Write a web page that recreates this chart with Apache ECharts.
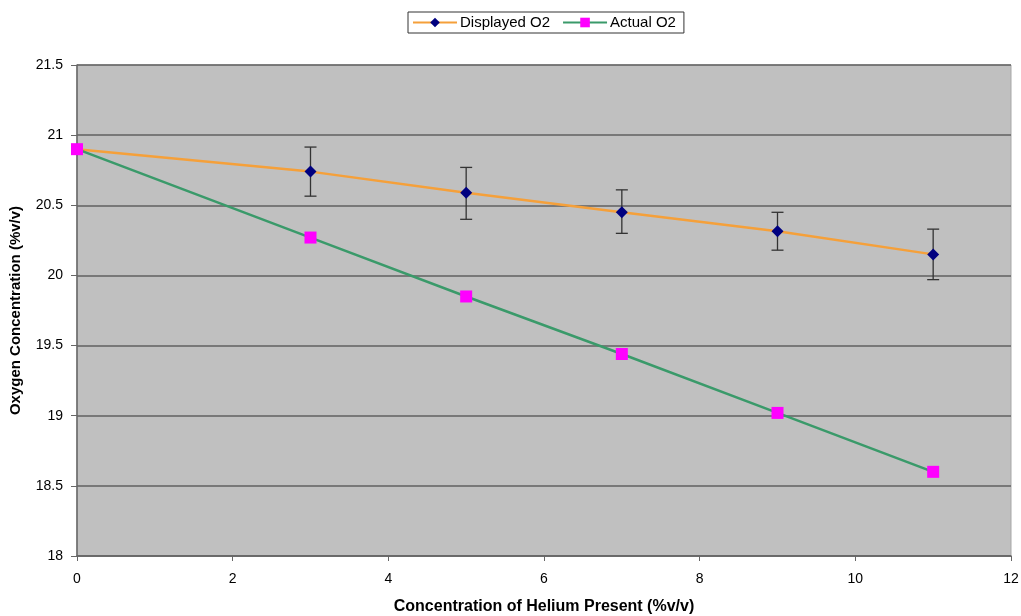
<!DOCTYPE html>
<html>
<head>
<meta charset="utf-8">
<script src="https://cdn.jsdelivr.net/npm/echarts@6/dist/echarts.min.js"></script>
<style>html,body{margin:0;padding:0;background:#fff;}#c{width:1021px;height:616px;}</style>
</head>
<body>
<div id="c"></div>
<script>
var helium = [0, 3, 5, 7, 9, 11];
var displayedO2 = [20.90, 20.74, 20.59, 20.45, 20.315, 20.15];
var displayedLow = [20.90, 20.565, 20.40, 20.30, 20.18, 19.97];
var displayedHigh = [20.90, 20.915, 20.77, 20.61, 20.45, 20.33];
var actualO2 = [20.90, 20.27, 19.85, 19.44, 19.02, 18.60];
var xTicks = [0, 2, 4, 6, 8, 10, 12];
var yTicks = [18, 18.5, 19, 19.5, 20, 20.5, 21, 21.5];

var dispData = helium.map(function (x, i) { return [x, displayedO2[i]]; });
var actData = helium.map(function (x, i) { return [x, actualO2[i]]; });
var errData = [];
helium.forEach(function (x, i) {
  if (displayedHigh[i] - displayedLow[i] > 0.01) errData.push([x, displayedLow[i], displayedHigh[i]]);
});

var chart = echarts.init(document.getElementById('c'));
chart.setOption({
  backgroundColor: '#ffffff',
  textStyle: { fontFamily: 'Liberation Sans, Arial, sans-serif' },
  animation: false,
  legend: {
    top: 12,
    left: 408,
    data: ['Displayed O2', 'Actual O2'],
    borderColor: '#333',
    borderWidth: 1,
    padding: [3, 8, 3, 4],
    itemGap: 12,
    itemWidth: 44,
    itemHeight: 12,
    textStyle: { fontSize: 15, color: '#000', fontFamily: 'Liberation Sans, Arial, sans-serif', padding: [0, 0, 0, -2] }
  },
  grid: { left: 77, right: 10, top: 65, bottom: 60, outerBoundsMode: 'none', containLabel: false, show: true, backgroundColor: '#c0c0c0', borderColor: '#a8a8a8', borderWidth: 1 },
  xAxis: {
    type: 'value', min: 0, max: 12, interval: 2,
    name: 'Concentration of Helium Present (%v/v)',
    nameLocation: 'middle', nameGap: 43,
    nameTextStyle: { fontWeight: 'bold', fontSize: 16, color: '#000' },
    axisLine: { show: true, lineStyle: { color: '#666', width: 1.5 } },
    axisTick: { show: true, length: 5, lineStyle: { color: '#666' } },
    axisLabel: { fontSize: 14, color: '#000', margin: 16 },
    splitLine: { show: false }
  },
  yAxis: {
    type: 'value', min: 18, max: 21.5, interval: 0.5,
    name: 'Oxygen Concentration (%v/v)',
    nameLocation: 'middle', nameGap: 54,
    nameTextStyle: { fontWeight: 'bold', fontSize: 15, color: '#000' },
    axisLine: { show: true, lineStyle: { color: '#666', width: 1.5 } },
    axisTick: { show: true, length: 6, lineStyle: { color: '#666' } },
    axisLabel: { fontSize: 14, color: '#000', margin: 14 },
    splitLine: { show: true, lineStyle: { color: '#606060', width: 1.5 } }
  },
  series: [
    {
      name: 'Displayed O2', type: 'line', data: dispData,
      symbol: 'diamond', symbolSize: 12, showAllSymbol: true,
      lineStyle: { color: '#F5A03A', width: 2.5 },
      itemStyle: { color: '#000080' },
      z: 3
    },
    {
      name: 'errbars', type: 'custom', data: errData, z: 2,
      renderItem: function (params, api) {
        var x = api.value(0);
        var lo = api.coord([x, api.value(1)]);
        var hi = api.coord([x, api.value(2)]);
        var w = 6;
        var st = { stroke: '#333', lineWidth: 1.3 };
        return {
          type: 'group',
          children: [
            { type: 'line', shape: { x1: lo[0], y1: lo[1], x2: hi[0], y2: hi[1] }, style: st },
            { type: 'line', shape: { x1: lo[0] - w, y1: lo[1], x2: lo[0] + w, y2: lo[1] }, style: st },
            { type: 'line', shape: { x1: hi[0] - w, y1: hi[1], x2: hi[0] + w, y2: hi[1] }, style: st }
          ]
        };
      }
    },
    {
      name: 'Actual O2', type: 'line', data: actData,
      symbol: 'rect', symbolSize: 12, showAllSymbol: true,
      lineStyle: { color: '#3A9A6A', width: 2.5 },
      itemStyle: { color: '#FF00FF' },
      z: 4
    }
  ]
});
</script>
</body>
</html>
